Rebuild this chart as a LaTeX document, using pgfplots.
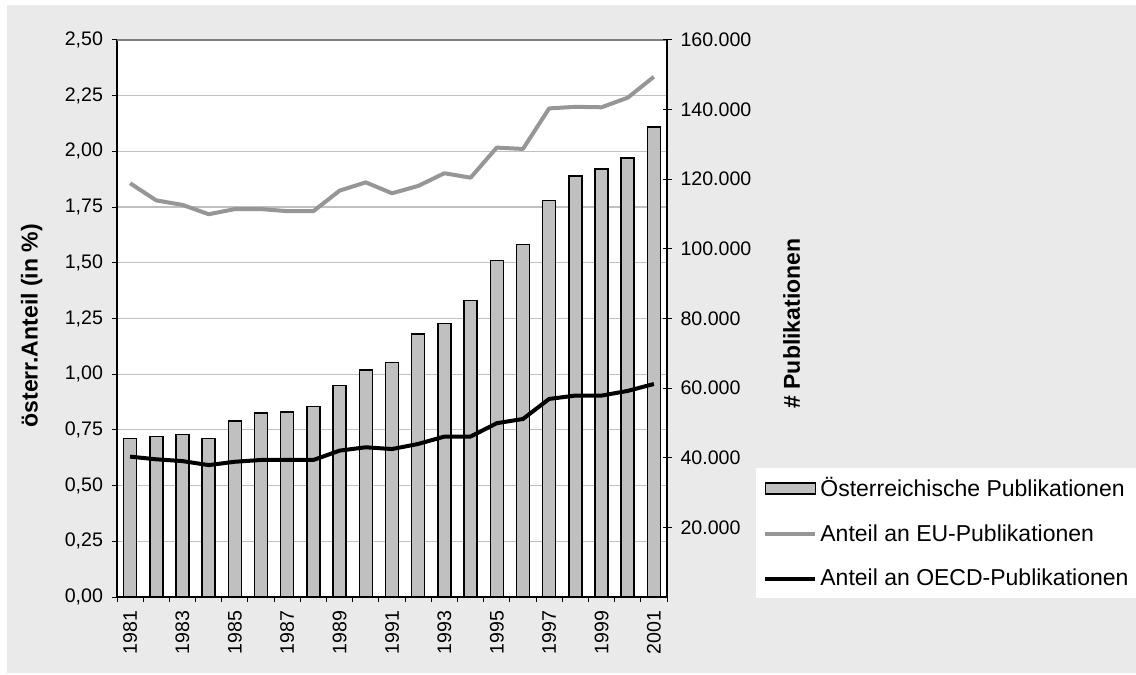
\documentclass[border=0pt]{standalone}
\usepackage{fontspec}
\setmainfont{Liberation Sans}
\usepackage{pgfplots}
\usepackage{pgfplotstable}
\pgfplotsset{compat=1.18}

\definecolor{bg}{HTML}{EAEAEA}
\definecolor{barfill}{HTML}{C0C0C0}
\definecolor{eugray}{HTML}{969696}
\definecolor{gridgray}{HTML}{C0C0C0}
\definecolor{topline}{HTML}{808080}

% i = position on the x axis (1981 = 0)
\pgfplotstableread{
i year pub eu oecd
0 1981 45600 1.857 0.630
1 1982 46100 1.780 0.618
2 1983 46700 1.760 0.610
3 1984 45600 1.718 0.592
4 1985 50600 1.741 0.607
5 1986 52800 1.741 0.615
6 1987 53100 1.732 0.615
7 1988 54700 1.732 0.615
8 1989 60700 1.824 0.657
9 1990 65200 1.861 0.672
10 1991 67300 1.812 0.664
11 1992 75500 1.845 0.687
12 1993 78500 1.902 0.720
13 1994 85100 1.882 0.720
14 1995 96700 2.017 0.780
15 1996 101200 2.011 0.799
16 1997 113900 2.193 0.889
17 1998 121000 2.200 0.904
18 1999 122900 2.198 0.904
19 2000 126100 2.241 0.925
20 2001 135000 2.335 0.956
}\data

\newcommand{\tickfont}{\fontsize{9.8bp}{11bp}\selectfont}
\newcommand{\labfont}{\fontsize{11.5bp}{13bp}\selectfont\bfseries}
\newcommand{\legfont}{\fontsize{11.5bp}{13bp}\selectfont}

\pgfplotsset{
  base/.style={
    scale only axis, width=275bp, height=278.5bp,
    at={(58.5bp,39bp)}, anchor=south west,
    xmin=-0.5, xmax=20.5,
    axis line style={-, black, line width=0.6bp},
    tick style={black, line width=0.5bp},
    ticklabel style={font=\tickfont},
    label style={font=\labfont},
  },
}

\begin{document}
\begin{tikzpicture}
\fill[white] (0bp,0bp) rectangle (568bp,337.5bp);
\fill[bg] (3.5bp,1bp) rectangle (568bp,335bp);

% left axis, grid, years
\begin{axis}[base,
  axis x line*=bottom, axis y line*=left,
  axis background/.style={fill=white},
  ymin=0, ymax=2.5,
  ytick={0,0.25,0.5,0.75,1,1.25,1.5,1.75,2,2.25,2.5},
  ymajorgrids, major grid style={gridgray, line width=0.6bp},
  tick align=outside, major tick length=2.5bp,
  /pgf/number format/.cd, fixed, fixed zerofill, precision=2, use comma, assume math mode=true, /pgfplots/.cd,
  xtick={-0.5,0.5,...,20.5}, xticklabels={},
  extra x ticks={0,2,...,20},
  extra x tick labels={1981,1983,1985,1987,1989,1991,1993,1995,1997,1999,2001},
  extra x tick style={major tick length=0pt, grid=none,
    xticklabel style={rotate=90, anchor=east, font=\tickfont, xshift=-3.5bp}},
  yticklabel style={xshift=-1bp},
  ylabel={österr.Anteil (in \%)},
  ylabel style={at={(axis description cs:-0.155,0.487)}, anchor=center},
]
\addplot[draw=none, forget plot] table[x=i, y=eu] {\data};
\draw[topline, line width=0.6bp] (rel axis cs:0,1) -- (rel axis cs:1,1);
\end{axis}

% right axis, bars
\begin{axis}[base,
  axis y line*=right, axis x line=none,
  ymin=0, ymax=160000,
  ytick={20000,40000,...,160000},
  scaled y ticks=false,
  tick align=center, major tick length=4.5bp,
  /pgf/number format/.cd, fixed, precision=0, 1000 sep={.}, assume math mode=true, /pgfplots/.cd,
  yticklabel style={xshift=1bp},
  ylabel={\# Publikationen},
  ylabel style={at={(axis description cs:1.2267,0.491)}, anchor=center},
  ybar, bar width=6.5bp,
]
\addplot[fill=barfill, draw=black, line width=0.75bp] table[x=i, y=pub] {\data};
\end{axis}

% shares (left scale)
\begin{axis}[base,
  hide axis,
  ymin=0, ymax=2.5,
  legend style={draw=none, fill=white, font=\legfont,
    at={(axis description cs:1.1618,-0.002)}, anchor=south west,
    inner xsep=3.5bp, inner ysep=4.5bp, row sep=12.5bp,
    nodes={inner xsep=1.5bp, inner ysep=0bp}},
  legend cell align=left,
]
\addlegendimage{legend image code/.code={\draw[fill=barfill, draw=black, line width=0.75bp] (0bp,-2.75bp) rectangle (25bp,2.75bp);}}
\addlegendentry{Österreichische Publikationen}
\addplot[eugray, line width=2bp, line join=round,
  legend image code/.code={\draw[eugray, line width=2bp] (0bp,0bp) -- (25bp,0bp);}]
  table[x=i, y=eu] {\data};
\addlegendentry{Anteil an EU-Publikationen}
\addplot[black, line width=2bp, line join=round,
  legend image code/.code={\draw[black, line width=2bp] (0bp,0bp) -- (25bp,0bp);}]
  table[x=i, y=oecd] {\data};
\addlegendentry{Anteil an OECD-Publikationen}
\end{axis}

\pgfresetboundingbox
\path (0bp,0bp) rectangle (568bp,337.5bp);
\end{tikzpicture}
\end{document}
